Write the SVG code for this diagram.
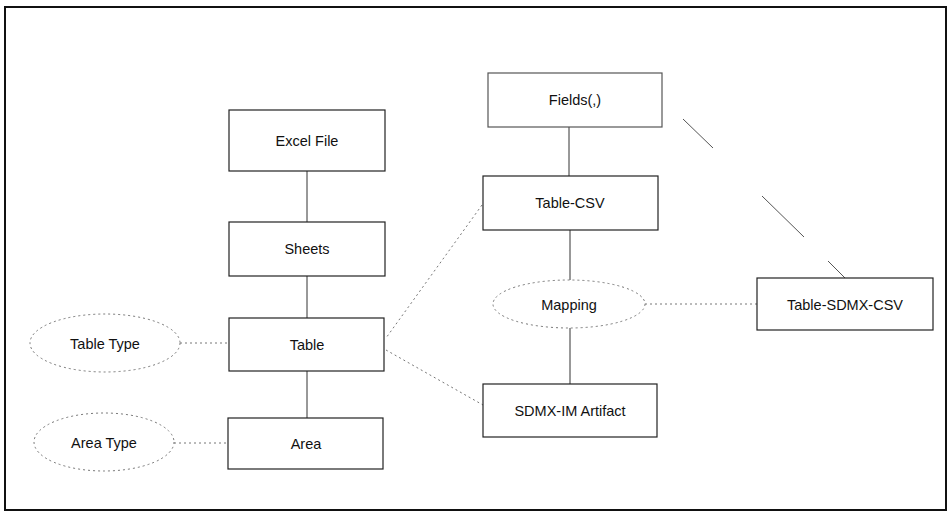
<svg xmlns="http://www.w3.org/2000/svg" width="947" height="515" viewBox="0 0 947 515">
<style>
.box{fill:#fff;stroke:#222;stroke-width:1.2}
.ell{fill:#fff;stroke:#777;stroke-width:1;stroke-dasharray:2 3}
.solid{stroke:#333;stroke-width:1;fill:none}
.dot{stroke:#777;stroke-width:1;stroke-dasharray:2 3;fill:none}
.dash{stroke:#555;stroke-width:1;fill:none}
text{font-family:"Liberation Sans",Arial,sans-serif;font-size:14.5px;fill:#111;text-anchor:middle;dominant-baseline:central}
</style>
<rect x="5" y="7" width="941" height="503" fill="#fff" stroke="#111" stroke-width="2"/>
<g id="connectors">
<line class="solid" x1="307" y1="171" x2="307" y2="222"/>
<line class="solid" x1="307" y1="276" x2="307" y2="318"/>
<line class="solid" x1="307" y1="371" x2="307" y2="418"/>
<line class="dot" x1="180" y1="343" x2="229" y2="343"/>
<line class="dot" x1="174" y1="443" x2="228" y2="443"/>
<line class="dot" x1="482" y1="205" x2="386" y2="338"/>
<line class="dot" x1="386" y1="350" x2="483" y2="405"/>
<line class="solid" x1="569" y1="127" x2="569" y2="176"/>
<line class="solid" x1="570" y1="230" x2="570" y2="280"/>
<line class="solid" x1="570" y1="328" x2="570" y2="384"/>
<line class="dot" x1="645" y1="304" x2="757" y2="304"/>
<path class="dash" d="M683 119 L713 148 M762 196 L804 237 M828 261 L845 278"/>
</g>
<g id="excel-file"><rect class="box" x="229" y="110" width="156" height="61"/><text x="307" y="141">Excel File</text></g>
<g id="sheets"><rect class="box" x="229" y="222" width="156" height="54"/><text x="307" y="249">Sheets</text></g>
<g id="table"><rect class="box" x="229" y="318" width="155" height="53"/><text x="307" y="345">Table</text></g>
<g id="area"><rect class="box" x="228" y="418" width="155" height="51"/><text x="306" y="444">Area</text></g>
<g id="table-type"><ellipse class="ell" cx="105" cy="343" rx="75" ry="29"/><text x="105" y="344">Table Type</text></g>
<g id="area-type"><ellipse class="ell" cx="104" cy="442" rx="70" ry="29"/><text x="104" y="443">Area Type</text></g>
<g id="fields"><rect class="box" x="488" y="73" width="174" height="54" style="stroke:#555"/><text x="575" y="100">Fields(,)</text></g>
<g id="table-csv"><rect class="box" x="483" y="176" width="175" height="54"/><text x="570" y="203">Table-CSV</text></g>
<g id="mapping"><ellipse class="ell" cx="569" cy="304" rx="76" ry="24"/><text x="569" y="305">Mapping</text></g>
<g id="sdmx-im-artifact"><rect class="box" x="483" y="384" width="174" height="53"/><text x="570" y="411">SDMX-IM Artifact</text></g>
<g id="table-sdmx-csv"><rect class="box" x="757" y="278" width="176" height="52"/><text x="845" y="305">Table-SDMX-CSV</text></g>
</svg>
